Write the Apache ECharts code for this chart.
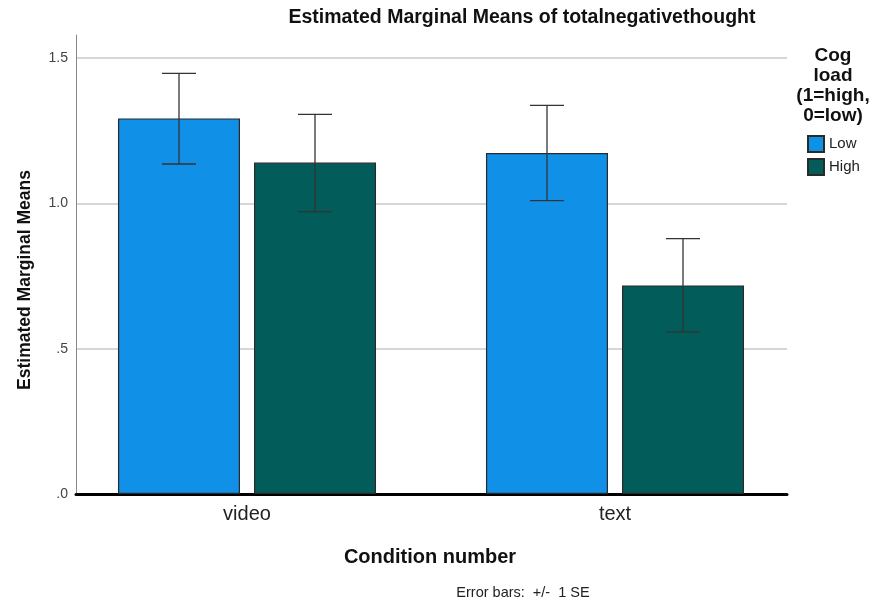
<!DOCTYPE html>
<html>
<head>
<meta charset="utf-8">
<script src="https://cdn.jsdelivr.net/npm/echarts@6/dist/echarts.min.js"></script>
<style>
  html, body { margin: 0; padding: 0; background: #fff; }
  #chart { width: 875px; height: 604px; }
</style>
</head>
<body>
<div id="chart"></div>
<script>
// data
const categories = ['video', 'text']
const seriesNames = ['Low', 'High']
const lowMeans = [1.293, 1.174]
const highMeans = [1.141, 0.718]
const lowLower = [1.136, 1.010]
const lowUpper = [1.448, 1.338]
const highLower = [0.972, 0.558]
const highUpper = [1.307, 0.879]
const gridValues = [0.5, 1.0, 1.5]
const tickLabels = { 0: '.0', 0.5: '.5', 1: '1.0', 1.5: '1.5' }

const font = 'Liberation Sans, Arial, sans-serif'
const colors = ['#1190e8', '#025c59']

const chart = echarts.init(document.getElementById('chart'))

// error bar drawing, offset is the bar centre shift inside a category
const errorBar = (lower, upper, offset) => ({
  type: 'custom',
  xAxisIndex: 1,
  yAxisIndex: 1,
  z: 5,
  silent: true,
  data: categories.map((c, i) => [i, lower[i], upper[i]]),
  renderItem: (params, api) => {
    const lo = api.coord([api.value(0), api.value(1)])
    const hi = api.coord([api.value(0), api.value(2)])
    const x = lo[0] + offset
    const cap = 17
    const style = { stroke: '#333', lineWidth: 1.3 }
    return {
      type: 'group',
      children: [
        { type: 'line', shape: { x1: x, y1: hi[1], x2: x, y2: lo[1] }, style },
        { type: 'line', shape: { x1: x - cap, y1: hi[1], x2: x + cap, y2: hi[1] }, style },
        { type: 'line', shape: { x1: x - cap, y1: lo[1], x2: x + cap, y2: lo[1] }, style }
      ]
    }
  }
})

const option = {
  animation: false,
  grid: [
    { left: 76, right: 88, top: 35, bottom: 110 },
    { left: 63, width: 736, top: 35, bottom: 110 }
  ],
  xAxis: [
    {
      type: 'category', gridIndex: 0, data: categories,
      axisLine: { lineStyle: { color: '#000', width: 3 } },
      axisTick: { show: false }, axisLabel: { show: false }, splitLine: { show: false }
    },
    {
      type: 'category', gridIndex: 1, data: categories,
      axisLine: { show: false }, axisTick: { show: false },
      axisLabel: { margin: 10, fontSize: 20, color: '#222', fontFamily: font }
    }
  ],
  yAxis: [
    {
      type: 'value', gridIndex: 0, min: 0, max: 1.58, interval: 0.5,
      axisLine: { show: true, lineStyle: { color: '#888', width: 1 } },
      axisTick: { show: false },
      splitLine: { show: false },
      axisLabel: {
        margin: 8, fontSize: 14, color: '#444', fontFamily: font,
        formatter: v => tickLabels[v] !== undefined ? tickLabels[v] : ''
      }
    },
    {
      type: 'value', gridIndex: 1, min: 0, max: 1.58, show: false
    }
  ],
  legend: {
    orient: 'vertical', left: 802, top: 130,
    itemWidth: 16, itemHeight: 16, itemGap: 5,
    icon: 'rect',
    data: seriesNames,
    textStyle: { fontSize: 15, color: '#222', fontFamily: font }
  },
  graphic: [
    {
      type: 'text', x: 522, y: 18,
      style: { text: 'Estimated Marginal Means of totalnegativethought', font: 'bold 19.5px ' + font, fill: '#111', align: 'center', verticalAlign: 'middle' }
    },
    {
      type: 'text', x: 430, y: 557,
      style: { text: 'Condition number', font: 'bold 20px ' + font, fill: '#111', align: 'center', verticalAlign: 'middle' }
    },
    {
      type: 'text', x: 25, y: 280, rotation: Math.PI / 2,
      style: { text: 'Estimated Marginal Means', font: 'bold 17.5px ' + font, fill: '#111', align: 'center', verticalAlign: 'middle' }
    },
    {
      type: 'text', x: 833, y: 86,
      style: { text: 'Cog\nload\n(1=high,\n0=low)', font: 'bold 19px ' + font, lineHeight: 20, fill: '#111', align: 'center', verticalAlign: 'middle' }
    },
    {
      type: 'text', x: 523, y: 593,
      style: { text: 'Error bars:  +/-  1 SE', font: '14.5px ' + font, fill: '#222', align: 'center', verticalAlign: 'middle' }
    }
  ],
  series: [
    {
      // gridlines only, kept behind the bars
      type: 'bar', xAxisIndex: 0, yAxisIndex: 0, data: [], z: 0,
      markLine: {
        silent: true, symbol: 'none', label: { show: false }, z: 0,
        lineStyle: { color: '#c8c8c8', type: 'solid', width: 1.5 },
        data: gridValues.map(v => ({ yAxis: v }))
      }
    },
    {
      name: seriesNames[0], type: 'bar', xAxisIndex: 1, yAxisIndex: 1,
      data: lowMeans, barWidth: 122, barGap: '11.5%', z: 3,
      itemStyle: { color: colors[0], borderColor: '#2a2a2a', borderWidth: 1.2 }
    },
    {
      name: seriesNames[1], type: 'bar', xAxisIndex: 1, yAxisIndex: 1,
      data: highMeans, barWidth: 122, barGap: '11.5%', z: 3,
      itemStyle: { color: colors[1], borderColor: '#2a2a2a', borderWidth: 1.2 }
    },
    errorBar(lowLower, lowUpper, -68),
    errorBar(highLower, highUpper, 68)
  ]
}

chart.setOption(option)
</script>
</body>
</html>
